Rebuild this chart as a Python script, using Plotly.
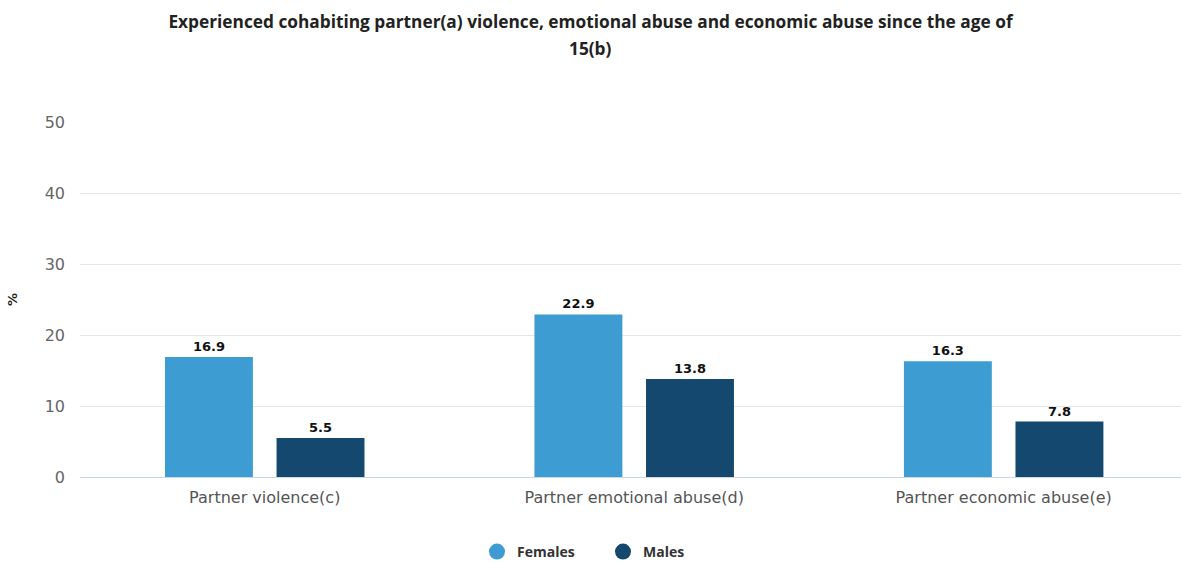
import plotly.graph_objects as go

categories = ["Partner violence(c)", "Partner emotional abuse(d)", "Partner economic abuse(e)"]
females = [16.9, 22.9, 16.3]
males = [5.5, 13.8, 7.8]
series_names = ["Females", "Males"]
colors = ["#3d9dd2", "#14486e"]
title_line1 = "Experienced cohabiting partner(a) violence, emotional abuse and economic abuse since the age of"
title_line2 = "15(b)"
y_ticks = [0, 10, 20, 30, 40, 50]

FONT = "'Open Sans', sans-serif"
TICKFONT = "'DejaVu Sans', Verdana, sans-serif"
legend_x = [477, 603]

fig = go.Figure()
for i, (name, vals, col) in enumerate(zip(series_names, [females, males], colors)):
    lg = "legend" if i == 0 else f"legend{i + 1}"
    fig.add_trace(go.Bar(
        x=categories, y=vals, name=name, marker=dict(color=col, line=dict(width=0)),
        texttemplate="<b>%{y}</b>", textposition="outside",
        textfont=dict(size=13, color="#111", family=TICKFONT),
        cliponaxis=False, showlegend=False,
    ))
    # legend entry with circle symbol
    fig.add_trace(go.Scatter(
        x=[None], y=[None], mode="markers", name=f"<b>{name}</b>",
        marker=dict(symbol="circle", size=20, color=col), showlegend=True, legend=lg,
    ))

legend_common = dict(orientation="h", xref="container", xanchor="left",
                     yref="container", y=11 / 563, yanchor="middle",
                     font=dict(size=14, color="#333", family=FONT), bgcolor="rgba(0,0,0,0)")

fig.update_layout(
    width=1181, height=563,
    margin=dict(l=80, r=0, t=122, b=86),
    paper_bgcolor="white", plot_bgcolor="white",
    barmode="group", bargap=0.396, bargroupgap=0.212,
    font=dict(family=FONT, color="#333"),
    title=dict(text=f"<b>{title_line1}</b>", x=0.5, xref="container", xanchor="center",
               y=1 - 22 / 563, yref="container", yanchor="middle",
               font=dict(size=17.3, color="#222", family=FONT)),
    annotations=[dict(text=f"<b>{title_line2}</b>", x=(590.5 - 80) / 1101, xref="paper", xanchor="center",
                      y=(477 - 48) / 355, yref="paper", yanchor="middle", showarrow=False,
                      font=dict(size=17.3, color="#222", family=FONT))],
    legend=dict(x=legend_x[0] / 1181, **legend_common),
    legend2=dict(x=legend_x[1] / 1181, **legend_common),
    xaxis=dict(range=[-0.5, 2.48], showgrid=False, showline=True, linecolor="#ccd6eb", linewidth=1,
               tickfont=dict(size=16, color="#555", family=TICKFONT), ticks="", ticklabelstandoff=6,
               fixedrange=True),
    yaxis=dict(range=[0, 50], tickvals=y_ticks, showgrid=True, gridcolor="#e6e6e6", gridwidth=1,
               zeroline=False, showline=False,
               tickfont=dict(size=16, color="#666", family=TICKFONT), ticklabelstandoff=14,
               title=dict(text="<b>%</b>", font=dict(size=13, color="#222", family=TICKFONT), standoff=24),
               fixedrange=True),
)
fig.write_html("out.html", config={"displayModeBar": False},
               post_script="document.body.style.margin='0';")
